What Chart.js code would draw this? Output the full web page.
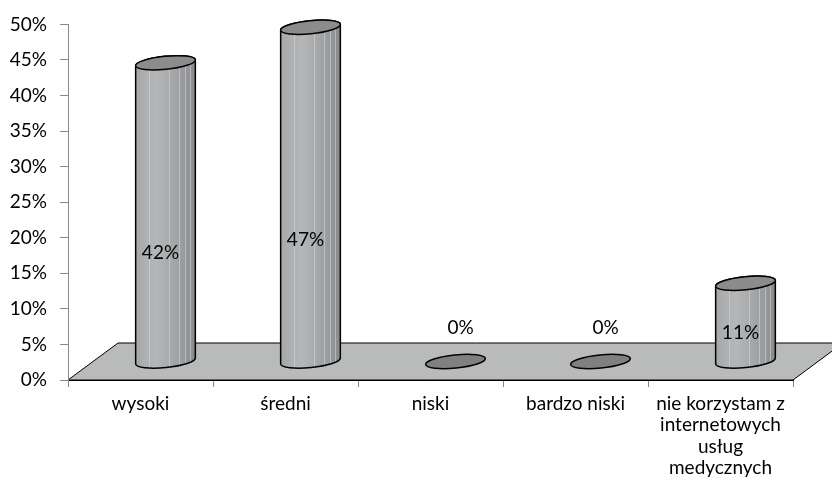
<!DOCTYPE html>
<html>
<head>
<meta charset="utf-8">
<script src="https://cdn.jsdelivr.net/npm/chart.js@4.4.1/dist/chart.umd.min.js"></script>
<style>
    html, body { margin: 0; padding: 0; background: #fff; }
    #wrap { width: 832px; height: 485px; }
</style>
</head>
<body>
<div id="wrap"><canvas id="ratingChart"></canvas></div>
<script>
const categories = ['wysoki', 'średni', 'niski', 'bardzo niski', ['nie korzystam z', 'internetowych', 'usług', 'medycznych']];
const shares = [42, 47, 0, 0, 11];
const yMax = 50;
const yStep = 5;

// depth of the floor, cylinders stand halfway into it
const depthX = 50;
const depthY = -37;
const fontFamily = 'Lato, "Open Sans", sans-serif';

function cylinderPath(ctx, cx, topY, botY, rx, ry, rot) {
    ctx.beginPath();
    ctx.ellipse(cx, botY, rx, ry, rot, 0, Math.PI, false);
    ctx.ellipse(cx, topY, rx, ry, rot, Math.PI, 2 * Math.PI, false);
    ctx.closePath();
}

const floor3d = {
    id: 'floor3d',
    beforeDraw(chart) {
        const { ctx, chartArea } = chart;
        ctx.save();
        ctx.beginPath();
        ctx.moveTo(chartArea.left, chartArea.bottom);
        ctx.lineTo(chartArea.left + depthX, chartArea.bottom + depthY);
        ctx.lineTo(chartArea.right + depthX, chartArea.bottom + depthY);
        ctx.lineTo(chartArea.right, chartArea.bottom);
        ctx.closePath();
        ctx.fillStyle = '#b9baba';
        ctx.fill();
        ctx.lineWidth = 1;
        ctx.strokeStyle = '#000';
        ctx.stroke();
        ctx.restore();
    }
};

const cylinders = {
    id: 'cylinders',
    afterDatasetsDraw(chart) {
        const { ctx } = chart;
        const yScale = chart.scales.y;
        const meta = chart.getDatasetMeta(0);
        const rot = -0.1;
        ctx.save();
        meta.data.forEach((el, i) => {
            const v = shares[i];
            const rx = el.width / 2;
            const ry = 6.5;
            const cx = el.x + depthX / 2;
            const botY = el.base + depthY / 2;
            const topY = el.y + depthY / 2;

            if (v > 0) {
                // body with vertical shading
                const g = ctx.createLinearGradient(cx - rx, 0, cx + rx, 0);
                g.addColorStop(0, '#a4a6a7');
                g.addColorStop(0.15, '#adafb0');
                g.addColorStop(0.35, '#b4b6b7');
                g.addColorStop(0.5, '#acaeaf');
                g.addColorStop(0.7, '#a0a2a3');
                g.addColorStop(0.85, '#95979a');
                g.addColorStop(1, '#86888a');
                cylinderPath(ctx, cx, topY, botY, rx, ry, rot);
                ctx.fillStyle = g;
                ctx.fill();

                // thin light stripes
                ctx.save();
                cylinderPath(ctx, cx, topY, botY, rx, ry, rot);
                ctx.clip();
                ctx.strokeStyle = 'rgba(210,212,213,0.6)';
                ctx.lineWidth = 1;
                [0.22, 0.55, 0.72, 0.82, 0.9].forEach(f => {
                    const x = Math.round(cx - rx + f * 2 * rx) + 0.5;
                    ctx.beginPath();
                    ctx.moveTo(x, topY - 10);
                    ctx.lineTo(x, botY + 10);
                    ctx.stroke();
                });
                ctx.restore();

                cylinderPath(ctx, cx, topY, botY, rx, ry, rot);
                ctx.strokeStyle = '#000';
                ctx.lineWidth = 1.5;
                ctx.stroke();

                // top cap
                ctx.beginPath();
                ctx.ellipse(cx, topY, rx, ry, rot, 0, 2 * Math.PI);
                ctx.fillStyle = '#8c8c8c';
                ctx.fill();
                ctx.stroke();
            } else {
                ctx.beginPath();
                ctx.ellipse(cx, botY, rx, ry, rot, 0, 2 * Math.PI);
                ctx.fillStyle = '#808080';
                ctx.fill();
                ctx.strokeStyle = '#000';
                ctx.lineWidth = 1.5;
                ctx.stroke();
            }

            // value label
            ctx.fillStyle = '#000';
            ctx.font = '19px ' + fontFamily;
            ctx.textAlign = 'center';
            ctx.textBaseline = 'middle';
            let ly, lx;
            if (v > 0) {
                ly = yScale.getPixelForValue(v * 0.365) + depthY / 2;
                lx = cx - 5;
            } else {
                ly = botY - 34;
                lx = cx + 5;
            }
            ctx.fillText(v + '%', lx, ly);
        });
        ctx.restore();
    }
};

const ctx = document.getElementById('ratingChart').getContext('2d');

const config = {
    type: 'bar',
    data: {
        labels: categories,
        datasets: [{
            data: shares,
            backgroundColor: 'rgba(0,0,0,0)',
            borderWidth: 0,
            categoryPercentage: 1,
            barPercentage: 60 / 145
        }]
    },
    options: {
        responsive: true,
        maintainAspectRatio: false,
        animation: false,
        layout: { padding: { top: 18, right: 39, left: 0, bottom: 0 } },
        plugins: {
            legend: { display: false },
            tooltip: { enabled: false }
        },
        scales: {
            x: {
                afterFit(scale) { scale.height = 105; },
                grid: {
                    offset: true,
                    drawOnChartArea: false,
                    tickLength: 7,
                    color: '#888'
                },
                border: { color: '#000' },
                ticks: {
                    color: '#000',
                    padding: 6,
                    maxRotation: 0,
                    autoSkip: false,
                    font: { family: fontFamily, size: 19, lineHeight: 1.13 }
                }
            },
            y: {
                min: 0,
                max: yMax,
                afterFit(scale) { scale.width = 68; },
                grid: {
                    drawOnChartArea: false,
                    tickLength: 8,
                    color: '#888'
                },
                border: { color: '#888' },
                ticks: {
                    stepSize: yStep,
                    color: '#000',
                    padding: 13,
                    font: { family: fontFamily, size: 19 },
                    callback: v => v + '%'
                }
            }
        }
    },
    plugins: [floor3d, cylinders]
};

const ratingChart = new Chart(ctx, config);
</script>
</body>
</html>
